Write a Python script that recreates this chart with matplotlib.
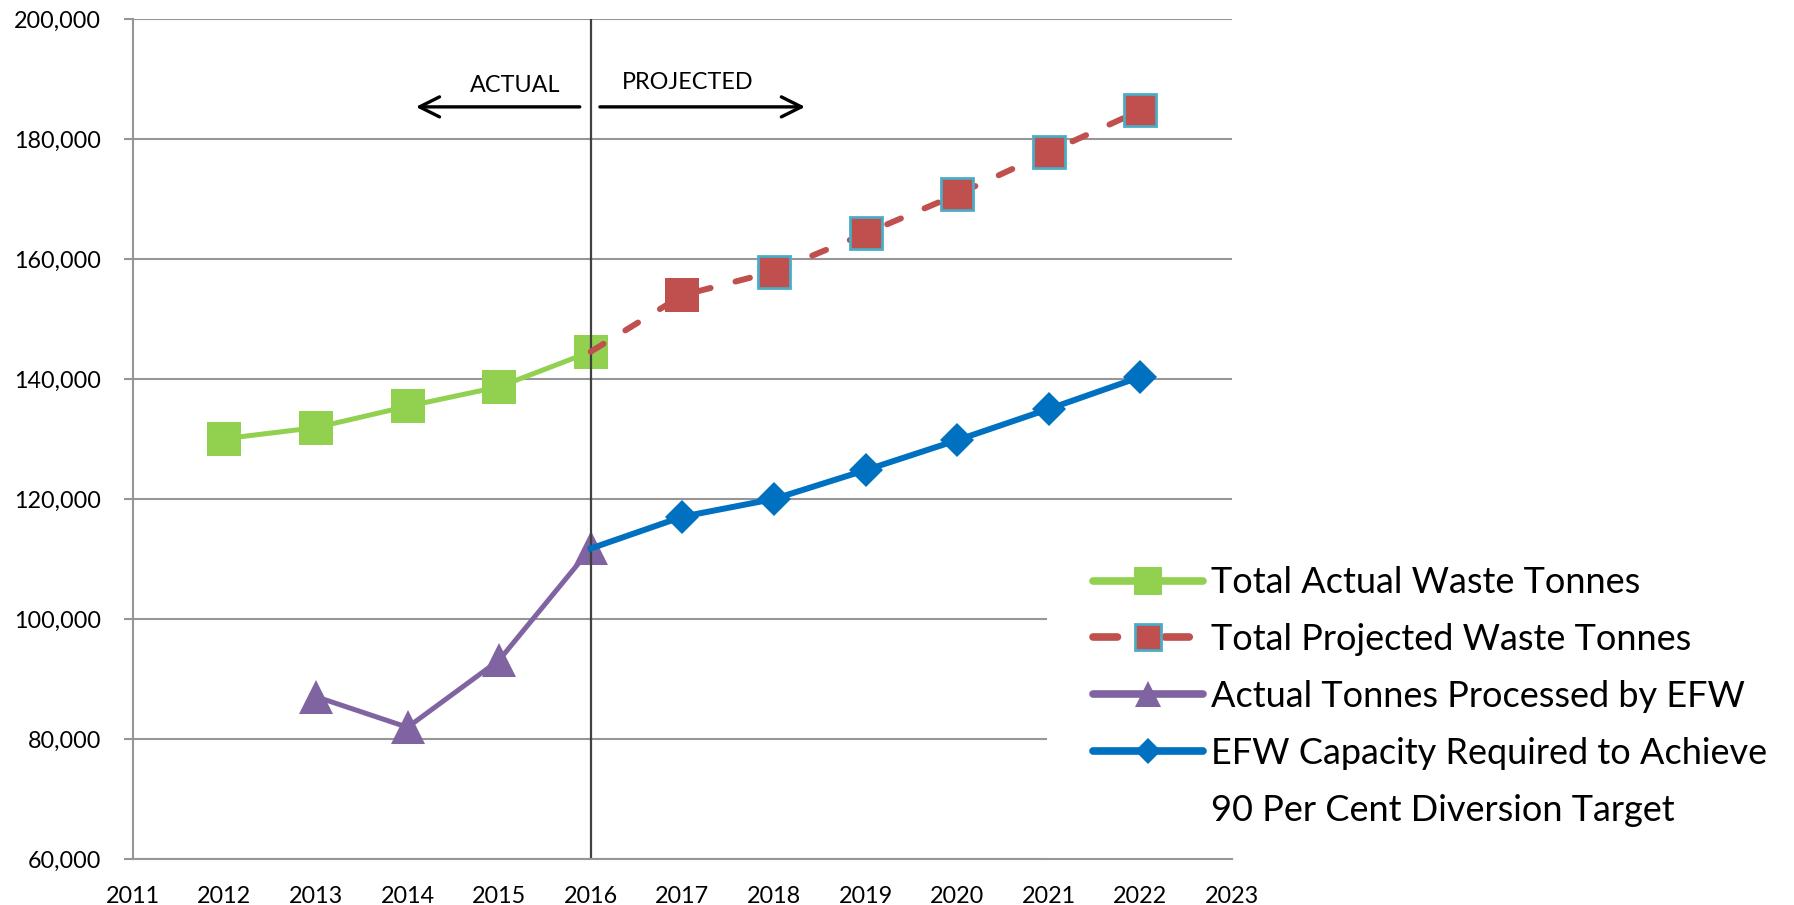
import matplotlib
matplotlib.use('Agg')
import matplotlib.pyplot as plt
from matplotlib.lines import Line2D
from matplotlib.ticker import FuncFormatter

plt.rcParams['font.family'] = ['Lato', 'DejaVu Sans']

# data
actual_years = [2012, 2013, 2014, 2015, 2016]
actual_total = [130100, 131950, 135500, 138750, 144600]

proj_years = [2016, 2017, 2018, 2019, 2020, 2021, 2022]
proj_total = [144600, 154000, 157950, 164300, 170800, 177850, 184800]

efw_years = [2013, 2014, 2015, 2016]
efw_actual = [87100, 82000, 93200, 111800]

cap_years = [2016, 2017, 2018, 2019, 2020, 2021, 2022]
cap_required = [111800, 117100, 120050, 124850, 129850, 135050, 140400]

x_ticks = list(range(2011, 2024))
y_ticks = list(range(60000, 200001, 20000))

labels = ['Total Actual Waste Tonnes',
          'Total Projected Waste Tonnes',
          'Actual Tonnes Processed by EFW',
          'EFW Capacity Required to Achieve',
          '90 Per Cent Diversion Target']

GREEN = '#92D050'
RED = '#C0504D'
CYAN = '#4BACC6'
PURPLE = '#8064A2'
BLUE = '#0070C0'
GRID = '#969696'

fig = plt.figure(figsize=(17.94, 9.05), dpi=100)
fig.subplots_adjust(left=0.074, right=0.6867, bottom=0.0505, top=0.9787)
ax = fig.add_subplot(111)

l1, = ax.plot(actual_years, actual_total, color=GREEN, lw=3.6, marker='s', ms=24.5,
              mec=GREEN, mew=0, solid_capstyle='round', zorder=2)

# red projected line: first point sits under the green marker, 2017 marker has no outline
l2, = ax.plot(proj_years, proj_total, color=RED, lw=4.3, linestyle=(0, (2.5, 4.3)),
              dash_capstyle='round', marker='s', ms=23, mfc=RED, mec=CYAN, mew=2,
              markevery=list(range(2, len(proj_years))), zorder=2.3)
ax.plot(proj_years[1:2], proj_total[1:2], linestyle='none', marker='s', ms=24.5,
        mfc=RED, mew=0, zorder=2.3)

l3, = ax.plot(efw_years, efw_actual, color=PURPLE, lw=3.6, marker='^', ms=24,
              mec=PURPLE, mew=0, zorder=2)
l4, = ax.plot(cap_years, cap_required, color=BLUE, lw=4.3, marker='D', ms=17,
              mec=BLUE, mew=0, markevery=list(range(1, len(cap_years))), zorder=2.3)

ax.axvline(2016, color='#404040', lw=1.6, zorder=2.2)

# actual / projected arrows
arr = dict(arrowstyle='->,head_length=0.72,head_width=0.36', lw=2.4, color='black',
           mutation_scale=20, shrinkA=0, shrinkB=0)
ax.annotate('', xy=(2014.09, 185400), xytext=(2015.88, 185400), arrowprops=arr)
ax.annotate('', xy=(2018.34, 185400), xytext=(2016.10, 185400), arrowprops=arr)
ax.text(2015.18, 189000, 'ACTUAL', ha='center', va='center', fontsize=16.8)
ax.text(2017.06, 189500, 'PROJECTED', ha='center', va='center', fontsize=16.8)

ax.set_xlim(2011, 2023)
ax.set_ylim(60000, 200000)
ax.set_xticks(x_ticks)
ax.set_yticks(y_ticks)
ax.yaxis.set_major_formatter(FuncFormatter(lambda v, p: '{:,}'.format(int(v))))
ax.tick_params(axis='y', length=6.3, width=1.5, color=GRID, pad=16.5, labelsize=16.8)
ax.tick_params(axis='x', length=0, pad=19, labelsize=16.8)

ax.set_axisbelow(True)
ax.grid(axis='y', color=GRID, lw=1.5)
for s in ['top', 'right']:
    ax.spines[s].set_visible(False)
for s in ['left', 'bottom']:
    ax.spines[s].set_color(GRID)
    ax.spines[s].set_linewidth(1.5)

# second line of the last label gets an empty handle
blank = Line2D([], [], linestyle='none')
leg = ax.legend([l1, l2, l3, l4, blank], labels, loc='upper left',
                bbox_to_anchor=(0.5836, 0.425), bbox_transform=fig.transFigure,
                borderaxespad=0, borderpad=1.27, frameon=True, fancybox=False,
                edgecolor='none', facecolor='white', framealpha=1, fontsize=26,
                handlelength=3.05, handletextpad=0.22, labelspacing=0.66, markerscale=0.8)
leg.set_zorder(2.4)
hl = leg.get_lines()
for h in hl[:4]:
    h.set_linewidth(5.5)
    h.set_solid_capstyle('round')
hl[1].set_linestyle((0, (3.2, 6.2)))
hl[1].set_dash_capstyle('round')

fig.savefig('out.png', dpi=100)
